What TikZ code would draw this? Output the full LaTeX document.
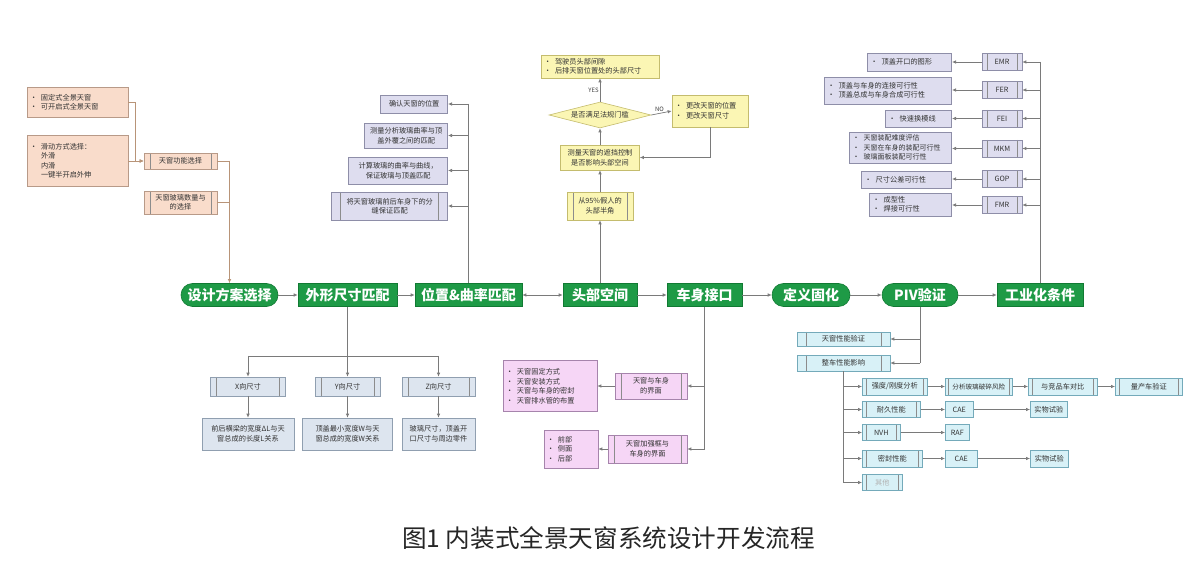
\documentclass[tikz,border=0pt]{standalone}
\usepackage{fontspec}
\setmainfont{Noto Sans CJK SC}
\usetikzlibrary{arrows.meta,shapes.geometric,calc}
\definecolor{mgreen}{HTML}{1E9A46}
\definecolor{mgreend}{HTML}{117A33}
\definecolor{cpeach}{HTML}{F9DCCB}
\definecolor{cpeachd}{HTML}{B89A88}
\definecolor{clav}{HTML}{DEDDEF}
\definecolor{clavd}{HTML}{8E8EA8}
\definecolor{cyel}{HTML}{FBF6B4}
\definecolor{cyeld}{HTML}{C4BC6E}
\definecolor{cpink}{HTML}{F6D6F6}
\definecolor{cpinkd}{HTML}{A684AC}
\definecolor{ccyan}{HTML}{D8F1F7}
\definecolor{ccyand}{HTML}{74AABA}
\definecolor{cbg}{HTML}{DDE5EF}
\definecolor{cbgd}{HTML}{909FB0}
\definecolor{cline}{HTML}{7A7A7A}
\definecolor{clineo}{HTML}{B89478}
\newcommand\blt{\makebox[11pt][l]{•}}
\newcommand\ind{\hspace*{11pt}}
\tikzset{
  box/.style={draw, line width=0.6pt, inner sep=2pt, align=center, text=black!80,
    font=\fontsize{7.2}{9.5}\selectfont},
  mainbox/.style={fill=mgreen, draw=mgreend, line width=0.6pt, text=white,
    font=\fontsize{14}{16}\selectfont\bfseries, minimum height=23pt, inner sep=1pt},
  mainround/.style={mainbox, rounded corners=11.5pt},
  peach/.style={box, fill=cpeach, draw=cpeachd},
  lav/.style={box, fill=clav, draw=clavd},
  yel/.style={box, fill=cyel, draw=cyeld},
  pink/.style={box, fill=cpink, draw=cpinkd},
  cyanbox/.style={box, fill=ccyan, draw=ccyand},
  bgbox/.style={box, fill=cbg, draw=cbgd},
  sz/.style 2 args={minimum width=#1pt, minimum height=#2pt},
  blist/.style={align=left, text width=#1pt},
  pp/.style={path picture={
    \draw[line width=0.5pt, black!45] ([xshift=#1pt]path picture bounding box.north west) -- ([xshift=#1pt]path picture bounding box.south west);
    \draw[line width=0.5pt, black!45] ([xshift=-#1pt]path picture bounding box.north east) -- ([xshift=-#1pt]path picture bounding box.south east);}},
  pp/.default=6,
  ln/.style={draw=cline, line width=0.7pt},
  arr/.style={ln, -{Latex[length=4pt,width=3.5pt]}},
  lno/.style={draw=clineo, line width=0.7pt},
  arro/.style={lno, -{Latex[length=4pt,width=3.5pt]}},
  lbl/.style={font=\fontsize{6}{7}\selectfont, text=black!75, inner sep=1pt},
}
\begin{document}
\begin{tikzpicture}[x=1pt,y=-1pt]
\useasboundingbox (0,0) rectangle (1200,569);
\fill[white] (0,0) rectangle (1200,569);

% ---------- main row ----------
\node[mainround, sz={97}{23}] (m1) at (229.5,295) {设计方案选择};
\node[mainbox, sz={99}{23}] (m2) at (347.5,295) {外形尺寸匹配};
\node[mainbox, sz={107}{23}] (m3) at (468.5,295) {位置\&曲率匹配};
\node[mainbox, sz={74}{23}] (m4) at (600,295) {头部空间};
\node[mainbox, sz={75}{23}] (m5) at (704.5,295) {车身接口};
\node[mainround, sz={78}{23}] (m6) at (811,295) {定义固化};
\node[mainround, sz={76}{23}] (m7) at (920,295) {PIV验证};
\node[mainbox, sz={86}{23}] (m8) at (1040,295) {工业化条件};

\draw[arr] (m1) -- (m2);
\draw[arr] (m2) -- (m3);
\draw[ln, {Latex[length=4pt,width=3.5pt]}-{Latex[length=4pt,width=3.5pt]}] (m3) -- (m4);
\draw[arr] (m4) -- (m5);
\draw[arr] (m5) -- (m6);
\draw[arr] (m6) -- (m7);
\draw[arr] (m7) -- (m8);

% ---------- design scheme (left) ----------
\node[peach, sz={101}{30}, blist=95] (a1) at (77.5,102) {\blt 固定式全景天窗\\\blt 可开启式全景天窗};
\node[peach, sz={101}{51}, blist=95] (a2) at (77.5,161) {\blt 滑动方式选择：\\\ind 外滑\\\ind 内滑\\\ind 一键半开启外伸};
\node[peach, pp, sz={73}{16}] (a3) at (180.5,161) {天窗功能选择};
\node[peach, pp, sz={73}{23}] (a4) at (180.5,202.5) {天窗玻璃数量与\\的选择};
\draw[arro] (a1.east) -- ++(7,0) |- (a3.west);
\draw[arro] (a2.east) -- (a3.west);
\coordinate (aj) at (229.5,161);
\draw[lno] (a3.east) -- (aj);
\draw[lno] (a4.east) -- (a4.east -| aj);
\draw[arro] (aj) -- (m1.north);

% ---------- position & curvature ----------
\node[lav, sz={67}{18}, anchor=east] (p1) at (448,104) {确认天窗的位置};
\node[lav, sz={83}{25}, anchor=east] (p2) at (448,135.5) {测量分析玻璃曲率与顶\\盖外覆之间的匹配};
\node[lav, sz={99}{27}, anchor=east] (p3) at (448,170.5) {计算玻璃的曲率与曲线，\\保证玻璃与顶盖匹配};
\node[lav, pp=9, sz={116}{28}, anchor=east] (p4) at (448,206) {将天窗玻璃前后车身下的分\\缝保证匹配};
\coordinate (pj) at (468.5,104);
\draw[ln] (pj) -- (m3.north);
\foreach \n in {p1,p2,p3,p4} \draw[arr] (\n.east -| pj) -- (\n.east);

% ---------- head space ----------
\node[yel, sz={118}{23}, blist=112] (h1) at (600,66.5) {\blt 驾驶员头部间隙\\\blt 后排天窗位置处的头部尺寸};
\node[yel, diamond, aspect=3.9, inner sep=0pt, sz={102}{26}] (hd) at (600,115) {是否满足法规门槛};
\node[yel, sz={76}{32}, blist=70] (hr) at (710,111) {\blt 更改天窗的位置\\\blt 更改天窗尺寸};
\node[yel, sz={79}{25}] (hm) at (600,157.5) {测量天窗的遮挡控制\\是否影响头部空间};
\node[yel, pp, sz={66}{28}] (hn) at (600,206) {从95\%假人的\\头部半角};
\draw[arr] (m4.north) -- (hn.south);
\draw[arr] (hn.north) -- (hm.south);
\draw[arr] (hm.north) -- (hd.south);
\draw[arr] (hd.north) -- node[lbl, left, pos=0.5] {YES} (h1.south);
\draw[arr] (hd.east) -- node[lbl, above, pos=0.4] {NO} (hr.west);
\draw[arr] (hr.south) |- (hm.east);

% ---------- industrialization ----------
\node[lav, pp=5, sz={40}{17}] (i1) at (1002,62) {EMR};
\node[lav, pp=5, sz={40}{17}] (i2) at (1002,90) {FER};
\node[lav, pp=5, sz={40}{17}] (i3) at (1002,118.5) {FEI};
\node[lav, pp=5, sz={40}{17}] (i4) at (1002,148.5) {MKM};
\node[lav, pp=5, sz={40}{17}] (i5) at (1002,179) {GOP};
\node[lav, pp=5, sz={40}{17}] (i6) at (1002,205) {FMR};
\node[lav, sz={84}{18}, blist=78, anchor=east] (d1) at (952,62) {\blt 顶盖开口的图形};
\node[lav, sz={127}{27}, blist=121, anchor=east] (d2) at (952,90.5) {\blt 顶盖与车身的连接可行性\\\blt 顶盖总成与车身合成可行性};
\node[lav, sz={66}{17}, blist=60, anchor=east] (d3) at (952,118.5) {\blt 快速换模线};
\node[lav, sz={102}{31}, blist=96, anchor=east, font=\fontsize{7}{9.2}\selectfont] (d4) at (952,147.5) {\blt 天窗装配难度评估\\\blt 天窗在车身的装配可行性\\\blt 玻璃面板装配可行性};
\node[lav, sz={90}{17}, blist=84, anchor=east] (d5) at (952,179.5) {\blt 尺寸公差可行性};
\node[lav, sz={82}{23}, blist=76, anchor=east] (d6) at (952,204.5) {\blt 成型性\\\blt 焊接可行性};
\coordinate (ij) at (1040,62);
\draw[ln] (ij) -- (m8.north);
\foreach \n/\d in {i1/d1,i2/d2,i3/d3,i4/d4,i5/d5,i6/d6} {
  \draw[arr] (\n.east -| ij) -- (\n.east);
  \draw[arr] (\n.west) -- (\n.west -| \d.east);
}

% ---------- body interface ----------
\node[pink, pp, sz={72}{26}] (v1) at (651,386) {天窗与车身\\的界面};
\node[pink, sz={94}{51}, blist=88] (v2) at (550,386) {\blt 天窗固定方式\\\blt 天窗安装方式\\\blt 天窗与车身的密封\\\blt 天窗排水管的布置};
\node[pink, pp, sz={79}{28}] (v3) at (647.5,449) {天窗加强框与\\车身的界面};
\node[pink, sz={54}{38}, blist=48] (v4) at (571,449) {\blt 前部\\\blt 侧面\\\blt 后部};
\draw[ln] (m5.south) -- (m5.south |- v3.east);
\draw[arr] (v1.east -| m5.south) -- (v1.east);
\draw[arr] (v3.east -| m5.south) -- (v3.east);
\draw[arr] (v1.west) -- (v2.east);
\draw[arr] (v3.west) -- (v4.east);

% ---------- PIV ----------
\node[cyanbox, pp=9, sz={93}{14}] (q1) at (843.5,339) {天窗性能验证};
\node[cyanbox, pp=9, sz={93}{16}] (q2) at (843.5,363) {整车性能影响};
\draw[ln] (m7.south) -- (m7.south |- q2.east);
\draw[arr] (q1.east -| m7.south) -- (q1.east);
\draw[arr] (q2.east -| m7.south) -- (q2.east);

\node[cyanbox, pp=4, sz={65}{17}, anchor=west] (r1a) at (862,386.5) {强度/刚度分析};
\node[cyanbox, pp=3, sz={67}{17}, anchor=west, font=\fontsize{6.6}{8}\selectfont] (r1b) at (945,386.5) {分析玻璃破碎风险};
\node[cyanbox, pp=4, sz={69}{17}, anchor=west] (r1c) at (1028,386.5) {与竞品车对比};
\node[cyanbox, pp=4, sz={67}{17}, anchor=west] (r1d) at (1115,386.5) {量产车验证};
\node[cyanbox, pp=4, sz={58}{16}, anchor=west] (r2a) at (862,409.5) {耐久性能};
\node[cyanbox, sz={28}{16}, anchor=west] (r2b) at (945,409.5) {CAE};
\node[cyanbox, sz={37}{16}, anchor=west] (r2c) at (1030,409.5) {实物试验};
\node[cyanbox, pp=4, sz={38}{16}, anchor=west] (r3a) at (862,432.5) {NVH};
\node[cyanbox, sz={24}{16}, anchor=west] (r3b) at (945,432.5) {RAF};
\node[cyanbox, pp=4, sz={60}{17}, anchor=west] (r4a) at (862,458.5) {密封性能};
\node[cyanbox, sz={32}{17}, anchor=west] (r4b) at (945,458.5) {CAE};
\node[cyanbox, sz={38}{17}, anchor=west] (r4c) at (1030,458.5) {实物试验};
\node[cyanbox, pp=4, sz={40}{16}, anchor=west, text=black!30] (r5a) at (862,482.5) {其他};
\draw[ln] (q2.south) -- (q2.south |- r5a.west);
\foreach \n in {r1a,r2a,r3a,r4a,r5a} \draw[arr] (\n.west -| q2.south) -- (\n.west);
\draw[arr] (r1a) -- (r1b);
\draw[arr] (r1b) -- (r1c);
\draw[arr] (r1c) -- (r1d);
\draw[arr] (r2a) -- (r2b);
\draw[arr] (r2b) -- (r2c);
\draw[arr] (r3a) -- (r3b);
\draw[arr] (r4a) -- (r4b);
\draw[arr] (r4b) -- (r4c);

% ---------- outline dimensions ----------
\node[bgbox, pp, sz={75}{19}] (s1) at (248,386.5) {X向尺寸};
\node[bgbox, pp, sz={65}{19}] (s2) at (347.5,386.5) {Y向尺寸};
\node[bgbox, pp, sz={73}{19}] (s3) at (438.5,386.5) {Z向尺寸};
\node[bgbox, sz={92}{32}] (t1) at (248,434) {前后横梁的宽度ΔL与天\\窗总成的长度L关系};
\node[bgbox, sz={90}{32}] (t2) at (347.5,434) {顶盖最小宽度W与天\\窗总成的宽度W关系};
\node[bgbox, sz={73}{32}] (t3) at (438.5,434) {玻璃尺寸，顶盖开\\口尺寸与周边零件};
\coordinate (oj) at (347.5,356);
\draw[ln] (m2.south) -- (oj);
\draw[ln] (s1.north |- oj) -- (s3.north |- oj);
\foreach \n/\t in {s1/t1,s2/t2,s3/t3} {
  \draw[arr] (\n.north |- oj) -- (\n.north);
  \draw[arr] (\n.south) -- (\t.north);
}

% ---------- caption ----------
\node[font=\fontsize{24.6}{28}\selectfont, text=black!85, inner sep=0pt] (cap) at (608.5,538) {图1 内装式全景天窗系统设计开发流程};
\end{tikzpicture}
\end{document}
